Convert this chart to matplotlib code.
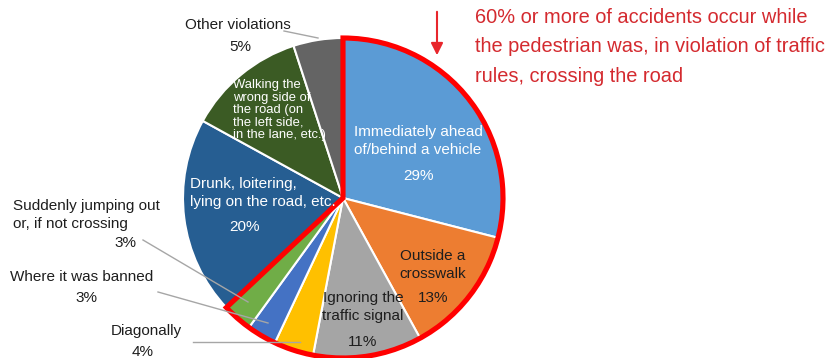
import matplotlib.pyplot as plt
from matplotlib.patches import Wedge

plt.rcParams['font.family'] = ['Liberation Sans', 'DejaVu Sans']

# Pedestrian accident shares by type of behaviour (clockwise from 12 o'clock)
categories = [
    "Immediately ahead\nof/behind a vehicle",
    "Outside a\ncrosswalk",
    "Ignoring the\ntraffic signal",
    "Diagonally",
    "Where it was banned",
    "Suddenly jumping out\nor, if not crossing",
    "Drunk, loitering,\nlying on the road, etc.",
    "Walking the\nwrong side of\nthe road (on\nthe left side,\nin the lane, etc.)",
    "Other violations",
]
shares = [29, 13, 11, 4, 3, 3, 20, 12, 5]
colors = ['#5B9BD5', '#ED7D31', '#A5A5A5', '#FFC000', '#4472C4',
          '#70AD47', '#265E92', '#3B5B24', '#646464']
crossing_count = 6  # first six slices: crossing the road in violation

note = ("60% or more of accidents occur while\n"
        "the pedestrian was, in violation of traffic\n"
        "rules, crossing the road")

W, H = 830, 358
fig = plt.figure(figsize=(W / 100, H / 100), dpi=100)
ax = fig.add_axes([0, 0, 1, 1])

cx, cy, r = 343, H - 198, 160
ax.pie(shares, colors=colors, startangle=90, counterclock=False,
       center=(cx, cy), radius=r,
       wedgeprops=dict(edgecolor='white', linewidth=1.5))

# red outline around the crossing-related group
end = 90 - 360 * sum(shares[:crossing_count]) / sum(shares)
ax.add_patch(Wedge((cx, cy), r, end, 450, fill=False,
                   edgecolor='#FF0000', linewidth=3.7, joinstyle='miter'))

ax.set_xlim(0, W)
ax.set_ylim(0, H)
ax.set_aspect('equal')
ax.axis('off')

dark = '#1E1E1E'
fs = 11

def y(v):
    return H - v

# labels inside the pie
ax.text(418, y(141), categories[0], color='white', fontsize=fs,
        ha='center', va='center', linespacing=1.45)
ax.text(418, y(176), f"{shares[0]}%", color='white', fontsize=fs,
        ha='center', va='center')
ax.text(433, y(265), categories[1], color=dark, fontsize=fs,
        ha='center', va='center', linespacing=1.45)
ax.text(433, y(298), f"{shares[1]}%", color=dark, fontsize=fs,
        ha='center', va='center')
ax.text(363, y(307), categories[2], color=dark, fontsize=fs,
        ha='center', va='center', linespacing=1.45)
ax.text(363, y(342), f"{shares[2]}%", color=dark, fontsize=fs,
        ha='center', va='center')
ax.text(190, y(193), categories[6], color='white', fontsize=fs,
        ha='left', va='center', linespacing=1.45)
ax.text(244, y(227), f"{shares[6]}%", color='white', fontsize=fs,
        ha='center', va='center')
ax.text(233, y(110), categories[7], color='white', fontsize=9.4,
        ha='left', va='center', linespacing=1.04)

# labels outside with leader lines
lead = '#A6A6A6'
ax.text(238, y(25), categories[8], color=dark, fontsize=fs,
        ha='center', va='center')
ax.text(240, y(47), f"{shares[8]}%", color=dark, fontsize=fs,
        ha='center', va='center')
ax.plot([284, 318], [y(31), y(38)], color=lead, lw=1)

ax.text(13, y(215), categories[5], color=dark, fontsize=fs,
        ha='left', va='center', linespacing=1.45)
ax.text(125, y(243), f"{shares[5]}%", color=dark, fontsize=fs,
        ha='center', va='center')
ax.plot([143, 248], [y(240), y(302)], color=lead, lw=1)

ax.text(10, y(277), categories[4], color=dark, fontsize=fs,
        ha='left', va='center')
ax.text(86, y(298), f"{shares[4]}%", color=dark, fontsize=fs,
        ha='center', va='center')
ax.plot([158, 268], [y(292), y(323)], color=lead, lw=1)

ax.text(146, y(331), categories[3], color=dark, fontsize=fs,
        ha='center', va='center')
ax.text(143, y(352), f"{shares[3]}%", color=dark, fontsize=fs,
        ha='center', va='center')
ax.plot([193, 300], [y(342), y(342)], color=lead, lw=1)

# note with arrow
ax.text(475, y(47), note, color='#D42A2F', fontsize=14.4,
        ha='left', va='center', linespacing=1.68)
ax.annotate('', xy=(437, y(58)), xytext=(437, y(9)),
            arrowprops=dict(arrowstyle='-|>', color='#E8262C', lw=1.5,
                            mutation_scale=18))

fig.savefig('out.png', dpi=100)
